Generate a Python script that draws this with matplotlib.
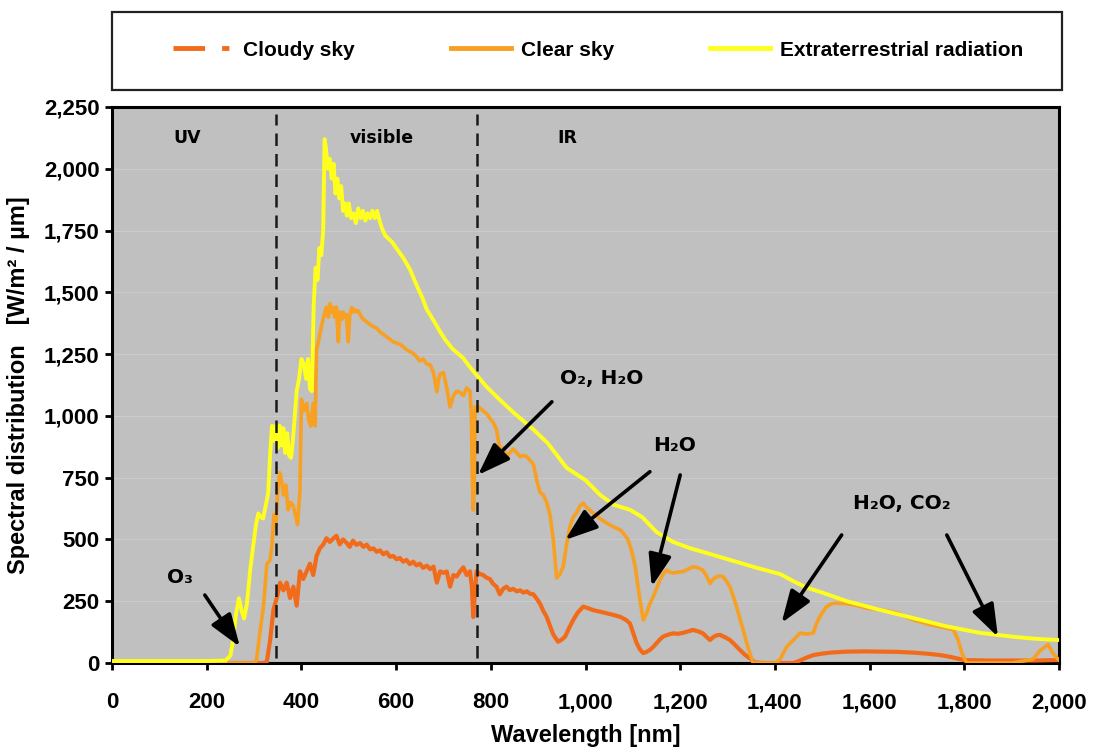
import matplotlib
matplotlib.use('Agg')
import matplotlib.pyplot as plt
from matplotlib import font_manager
from matplotlib.lines import Line2D
from matplotlib.patches import Rectangle

# ------------------------------- DATA -------------------------------
# wavelength [nm], spectral distribution [W/m2/um]
etr_nm = [0, 100, 200, 240, 250, 256, 262, 268, 274, 279, 285, 292, 298, 304, 309, 314, 319,
          325, 330, 334, 338, 342, 346, 350, 354, 358, 362, 366, 370, 374, 378, 382, 386,
          390, 395, 400, 405, 410, 414, 418, 422, 426, 430, 434, 438, 442, 446, 449, 452,
          456, 460, 464, 468, 472, 476, 480, 484, 488, 492, 496, 500, 505, 510, 515, 520,
          525, 530, 535, 540, 545, 550, 555, 560, 565, 570, 577, 585, 591, 600, 615, 630,
          643, 655, 665, 678, 690, 703, 720, 741, 755, 770, 790, 819, 850, 890, 920, 960,
          1000, 1031, 1060, 1094, 1120, 1150, 1185, 1220, 1256, 1300, 1362, 1411, 1440,
          1467, 1500, 1552, 1622, 1692, 1763, 1833, 1904, 1950, 2000]
etr_val = [8, 8, 8, 10, 30, 95, 200, 262, 210, 180, 240, 380, 470, 560, 605, 590, 585,
           640, 690, 850, 960, 900, 960, 870, 960, 880, 950, 850, 930, 840, 830, 900, 1000,
           1100, 1150, 1230, 1210, 1150, 1230, 1110, 1100, 1450, 1600, 1550, 1680, 1650, 1750, 2120, 2080,
           2000, 2040, 1960, 2020, 1900, 1960, 1880, 1930, 1830, 1860, 1810, 1860, 1800, 1820, 1780, 1840,
           1800, 1830, 1790, 1820, 1800, 1830, 1800, 1830, 1790, 1760, 1730, 1715, 1705, 1680, 1640, 1590,
           1530, 1480, 1430, 1390, 1350, 1310, 1270, 1235, 1200, 1165, 1120, 1065, 1010, 945, 890, 790,
           740, 680, 640, 620, 590, 530, 490, 465, 445, 420, 385, 360, 330,
           305, 285, 250, 215, 182, 148, 122, 106, 98, 93]

clear_nm = [0, 300, 305, 313, 320, 327, 334, 338, 342, 346, 350, 354, 358, 362, 367, 372, 377,
            382, 387, 392, 397, 400, 405, 411, 416, 420, 425, 429, 432, 436, 439, 442, 446,
            450, 453, 457, 460, 464, 467, 470, 474, 478, 481, 485, 488, 492, 495, 499, 502,
            506, 509, 513, 517, 520, 524, 530, 538, 545, 552, 559, 566, 573, 580, 587, 594,
            601, 608, 615, 622, 629, 636, 643, 650, 657, 665, 672, 679, 686, 690, 693, 700,
            707, 714, 721, 728, 735, 742, 749, 756, 759, 761, 763, 765, 767, 774, 784, 791,
            798, 805, 812, 819, 826, 833, 840, 847, 855, 862, 869, 876, 883, 890, 897, 904,
            911, 918, 925, 932, 939, 946, 953, 960, 967, 974, 981, 988, 995, 1002, 1009, 1020,
            1030, 1045, 1060, 1073, 1082, 1090, 1098, 1105, 1110, 1115, 1122, 1129, 1136, 1143,
            1150, 1157, 1164, 1171, 1178, 1185, 1195, 1206, 1217, 1227, 1238, 1248, 1256, 1263,
            1270, 1277, 1284, 1291, 1298, 1305, 1312, 1319, 1326, 1333, 1340, 1347, 1354, 1400,
            1411, 1425, 1439, 1453, 1467, 1481, 1488, 1495, 1509, 1520, 1530, 1552, 1573, 1594,
            1622, 1657, 1692, 1728, 1763, 1777, 1787, 1795, 1805, 1900, 1945, 1960, 1977, 1987,
            1998, 2000]
clear_val = [0, 0, 10, 134, 230, 400, 417, 480, 600, 560, 700, 770, 740, 680, 720, 620, 650,
             640, 603, 560, 700, 1067, 1020, 1051, 980, 959, 1051, 960, 1268, 1300, 1330, 1360, 1392,
             1423, 1440, 1400, 1454, 1420, 1440, 1400, 1440, 1300, 1420, 1390, 1420, 1400, 1410, 1300, 1407,
             1438, 1420, 1430, 1420, 1425, 1410, 1392, 1380, 1370, 1361, 1355, 1340, 1330, 1320, 1310, 1299,
             1295, 1290, 1280, 1268, 1260, 1253, 1240, 1222, 1230, 1210, 1206, 1175, 1098, 1150, 1170, 1175,
             1113, 1036, 1082, 1100, 1095, 1082, 1113, 1100, 1005, 760, 619, 700, 1036, 1036, 1020, 1010,
             990, 974, 945, 866, 870, 835, 850, 866, 850, 835, 840, 835, 820, 804, 740, 690,
             680, 650, 600, 498, 344, 360, 390, 480, 551, 590, 607, 635, 647, 630, 619, 600,
             585, 566, 550, 539, 520, 498, 450, 390, 320, 255, 174, 202, 240, 268,
             300, 336, 360, 376, 368, 364, 368, 370, 380, 390, 385, 376, 350, 322,
             340, 349, 352, 349, 330, 309, 270, 228, 180, 134, 85, 40, 0, 0,
             15, 66, 93, 121, 117, 121, 160, 188, 228, 240, 242, 240, 233, 222,
             216, 203, 175, 155, 141, 135, 93, 39, 0, 0, 15, 50, 75, 40,
             15, 12]

cloudy_nm = [0, 320, 327, 334, 341, 348, 355, 362, 369, 376, 383, 390, 397, 404, 411, 418, 425,
             432, 439, 446, 453, 460, 467, 474, 481, 488, 495, 502, 509, 516, 524, 531, 538,
             545, 552, 559, 566, 573, 580, 587, 594, 601, 608, 615, 622, 629, 636, 643, 650,
             657, 665, 672, 679, 686, 693, 700, 707, 714, 721, 728, 735, 742, 749, 756, 760,
             763, 767, 770, 777, 784, 791, 798, 805, 812, 819, 826, 833, 840, 847, 855, 862,
             869, 876, 883, 890, 897, 904, 911, 918, 925, 932, 942, 950, 957, 965, 974, 984,
             995, 1005, 1016, 1030, 1045, 1060, 1073, 1085, 1094, 1101, 1108, 1115, 1122, 1129,
             1136, 1143, 1150, 1157, 1164, 1175, 1185, 1195, 1206, 1217, 1227, 1238, 1248, 1256,
             1263, 1270, 1277, 1284, 1295, 1305, 1315, 1326, 1337, 1347, 1358, 1380, 1440, 1453,
             1467, 1481, 1500, 1517, 1552, 1590, 1622, 1660, 1692, 1720, 1749, 1770, 1784, 1800,
             1850, 1900, 1950, 2000]
cloudy_val = [0, 0, 5, 93, 216, 263, 325, 294, 325, 263, 309, 232, 371, 340, 371, 402, 356,
              433, 464, 479, 505, 490, 503, 515, 480, 500, 487, 470, 495, 478, 485, 470, 479,
              460, 464, 450, 456, 440, 448, 430, 433, 420, 425, 410, 417, 400, 410, 395, 402,
              385, 394, 380, 390, 325, 371, 365, 370, 309, 356, 350, 371, 387, 356, 371, 309,
              186, 300, 371, 360, 356, 345, 340, 320, 309, 278, 300, 309, 295, 300, 290, 294,
              285, 290, 280, 278, 260, 240, 210, 187, 150, 115, 86, 95, 107, 140, 174, 205,
              228, 222, 214, 208, 201, 194, 187, 175, 160, 120, 80, 55, 40, 45,
              53, 65, 80, 95, 107, 115, 120, 118, 122, 128, 134, 128, 120, 105,
              93, 105, 112, 114, 104, 93, 75, 53, 33, 19, 2, 0, 0, 10,
              22, 32, 38, 42, 46, 47, 46, 45, 42, 38, 32, 25, 19, 12,
              10, 10, 10, 12]

series_names = ['Cloudy sky', 'Clear sky', 'Extraterrestrial radiation']
series_colors = ['#f26b1a', '#f7a021', '#ffff1e']
band_limits = [346, 770]
band_names = ['UV', 'visible', 'IR']
y_ticks = [0, 250, 500, 750, 1000, 1250, 1500, 1750, 2000, 2250]
x_ticks = [0, 200, 400, 600, 800, 1000, 1200, 1400, 1600, 1800, 2000]

# ------------------------------- FONTS -------------------------------
installed = {f.name for f in font_manager.fontManager.ttflist}
narrow = 'Liberation Sans Narrow' if 'Liberation Sans Narrow' in installed else 'Liberation Sans'


# ------------------------------- PLOT -------------------------------
def plotSpectrum():
    fig = plt.figure(figsize=(10.97, 7.47), dpi=100)
    ax = fig.add_axes([112 / 1097, 1 - 663 / 747, 947 / 1097, 556 / 747])
    ax.set_facecolor('#c0c0c0')

    ax.plot(cloudy_nm, cloudy_val, color=series_colors[0], lw=3.0, zorder=3)
    ax.plot(clear_nm, clear_val, color=series_colors[1], lw=2.6, zorder=4)
    ax.plot(etr_nm, etr_val, color=series_colors[2], lw=2.8, zorder=5)

    for x in band_limits:
        ax.plot([x, x], [20, 2220], color='#1a1a1a', lw=1.8, dashes=(5, 3.2), zorder=6)

    ax.set_xlim(0, 2000)
    ax.set_ylim(0, 2250)
    ax.set_xticks(x_ticks)
    ax.set_yticks(y_ticks)
    ax.set_xticklabels([f'{v:,}' for v in x_ticks])
    ax.set_yticklabels([f'{v:,}' for v in y_ticks])
    ax.yaxis.grid(True, color='#cbcbcb', lw=0.8, zorder=1)
    ax.set_axisbelow(True)
    for lab in ax.get_xticklabels() + ax.get_yticklabels():
        lab.set_fontfamily(narrow)
        lab.set_fontweight('bold')
        lab.set_fontsize(16)
    ax.tick_params(direction='out', length=5, width=2, pad=4, colors='black')
    ax.tick_params(axis='x', pad=16)
    for sp in ax.spines.values():
        sp.set_linewidth(2.2)
        sp.set_color('black')

    ax.set_xlabel('Wavelength [nm]', fontfamily=narrow, fontweight='bold', fontsize=17, labelpad=8)
    ax.set_ylabel('Spectral distribution   [W/m² / µm]', fontfamily=narrow, fontweight='bold',
                  fontsize=17, labelpad=10)

    # region labels
    band_x = [158, 570, 961]
    for x, name in zip(band_x, band_names):
        ax.text(x, 2125, name, ha='center', va='center', fontsize=12.5, fontweight='bold',
                family='DejaVu Sans', zorder=7)

    # absorption labels with arrows
    notes = [('O₃', (144, 345), [((196, 275), (270, 66))]),
             ('O₂, H₂O', (1034, 1150), [((929, 1057), (773, 761))]),
             ('H₂O', (1189, 882), [((1136, 774), (957, 498)), ((1200, 761), (1140, 309))]),
             ('H₂O, CO₂', (1668, 647), [((1541, 518), (1414, 162)), ((1763, 518), (1871, 106))])]
    for label, pos, arrows in notes:
        ax.text(pos[0], pos[1], label, ha='center', va='center', fontsize=14.5, fontweight='bold',
                family='DejaVu Sans', zorder=7)
        for tail, head in arrows:
            ax.annotate('', xy=head, xytext=tail, zorder=8,
                        arrowprops=dict(arrowstyle='-|>,head_length=0.9,head_width=0.32',
                                        mutation_scale=22, lw=2.6, color='black',
                                        shrinkA=0, shrinkB=0))

    # legend in a box above the plot
    fig.patches.append(Rectangle((112 / 1097, 1 - 90 / 747), 950 / 1097, 78 / 747,
                                 transform=fig.transFigure, fill=False, ec='#222222', lw=1.6))
    handles = [Line2D([], [], color=series_colors[0], lw=3.5, dashes=(6.5, 3.5, 1.5, 3.5)),
               Line2D([], [], color=series_colors[1], lw=3.5),
               Line2D([], [], color=series_colors[2], lw=3.5)]
    fig.legend(handles, series_names, ncol=3, mode='expand', frameon=False,
               loc='center', bbox_to_anchor=(173 / 1097, 1 - 70 / 747, 850 / 1097, 40 / 747),
               borderaxespad=0, borderpad=0, handlelength=2.9, handletextpad=0.45,
               prop={'family': narrow, 'weight': 'bold', 'size': 15})

    fig.savefig('out.png', dpi=100)


if __name__ == '__main__':
    plotSpectrum()
